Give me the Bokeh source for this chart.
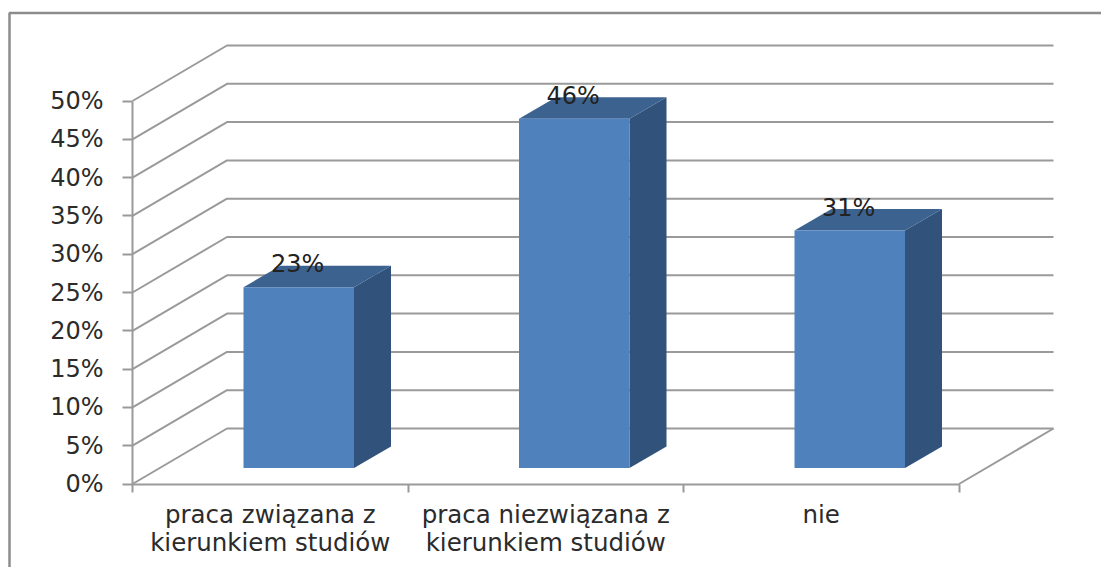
from bokeh.plotting import figure
from bokeh.models import Range1d, FixedTicker, PrintfTickFormatter
from bokeh.core.properties import value
from bokeh.embed import file_html
from bokeh.resources import INLINE

categories = ["praca związana z\nkierunkiem studiów", "praca niezwiązana z\nkierunkiem studiów", "nie"]
bar_values = [23.6, 45.6, 31.0]
bar_labels = ["23%", "46%", "31%"]
y_ticks = [0, 5, 10, 15, 20, 25, 30, 35, 40, 45, 50]

W, H = 1101, 567
ORIGIN_X, ORIGIN_Y = 132, 483.5   # where x=0, y=0 sit on the canvas
PX_X, PX_Y = 275.5, 7.66          # px per category / per percent
WALL_DX, WALL_DY = 94.5 / PX_X, 55.5 / PX_Y
BAR_X0, BAR_W = 111 / PX_X, 110.5 / PX_X
BAR_Y0 = 16.0 / PX_Y
BAR_DX, BAR_DY = 37 / PX_X, 21.5 / PX_Y

GRID = "#9a9a9a"
FRONT, SIDE, TOP = "#4F81BD", "#31527A", "#3C6290"
TEXT = "#2b2b2b"
FONT = "DejaVu Sans"

p = figure(width=W, height=H, output_backend="svg", toolbar_location=None,
           x_range=Range1d(-ORIGIN_X / PX_X, (W - ORIGIN_X) / PX_X),
           y_range=Range1d(-(H - ORIGIN_Y) / PX_Y, ORIGIN_Y / PX_Y),
           min_border=0, outline_line_color=None,
           background_fill_color="white", border_fill_color="white")
p.grid.visible = False

# chart-area border (runs off the right and bottom of the picture)
bx0, by1 = (9 - ORIGIN_X) / PX_X, (ORIGIN_Y - 12.5) / PX_Y
p.line([bx0, bx0, (W - ORIGIN_X) / PX_X], [-(H - ORIGIN_Y) / PX_Y, by1, by1],
       line_color="#8c8c8c", line_width=2.5)

# 3D walls: one polyline per y tick, plus the floor's right edge
n = len(categories)
p.multi_line(xs=[[0, WALL_DX, n + WALL_DX] for _ in y_ticks],
             ys=[[v, v + WALL_DY, v + WALL_DY] for v in y_ticks],
             line_color=GRID, line_width=2)
p.line([n, n + WALL_DX], [0, WALL_DY], line_color=GRID, line_width=2)

# bars
for i, v in enumerate(bar_values):
    x0, x1 = i + BAR_X0, i + BAR_X0 + BAR_W
    y0, y1 = BAR_Y0, BAR_Y0 + v
    p.patch([x1, x1 + BAR_DX, x1 + BAR_DX, x1], [y0, y0 + BAR_DY, y1 + BAR_DY, y1],
            fill_color=SIDE, line_color=None)
    p.patch([x0, x0 + BAR_DX, x1 + BAR_DX, x1], [y1, y1 + BAR_DY, y1 + BAR_DY, y1],
            fill_color=TOP, line_color=None)
    p.quad(left=x0, right=x1, bottom=y0, top=y1, fill_color=FRONT, line_color=None)

p.text(x=[i + BAR_X0 + BAR_W / 2 - 0.004 for i in range(n)],
       y=[BAR_Y0 + v + BAR_DY + 0.2 for v in bar_values],
       text=bar_labels, text_align="center", text_baseline="middle",
       text_font=value(FONT), text_font_size=value("24px"), text_color="#222222")

# axes, fixed on the data origin so the frame can span the whole canvas
ax = p.yaxis[0]
ax.fixed_location = 0
ax.ticker = FixedTicker(ticks=y_ticks)
ax.formatter = PrintfTickFormatter(format="%d%%")
ax.bounds = (0, 50)
ax.axis_line_color = GRID
ax.axis_line_width = 2
ax.major_tick_line_color = GRID
ax.major_tick_line_width = 2
ax.major_tick_in = 0
ax.major_tick_out = 10
ax.minor_tick_line_color = None
ax.major_label_standoff = 19
ax.major_label_text_font = FONT
ax.major_label_text_font_size = "24px"
ax.major_label_text_color = TEXT

bx = p.xaxis[0]
bx.fixed_location = 0
centers = [i + 0.5 for i in range(n)]
bx.ticker = FixedTicker(ticks=centers, minor_ticks=list(range(n + 1)))
bx.major_label_overrides = {c: t for c, t in zip(centers, categories)}
bx.bounds = (0, n)
bx.axis_line_color = GRID
bx.axis_line_width = 2
bx.major_tick_line_color = None
bx.major_tick_in = 0
bx.major_tick_out = 0
bx.minor_tick_line_color = GRID
bx.minor_tick_line_width = 2
bx.minor_tick_in = 0
bx.minor_tick_out = 8
bx.major_label_standoff = 8
bx.major_label_text_font = FONT
bx.major_label_text_font_size = "24.5px"
bx.major_label_text_line_height = 0.95
bx.major_label_text_color = TEXT

open("out.html", "w").write(file_html(p, INLINE))
